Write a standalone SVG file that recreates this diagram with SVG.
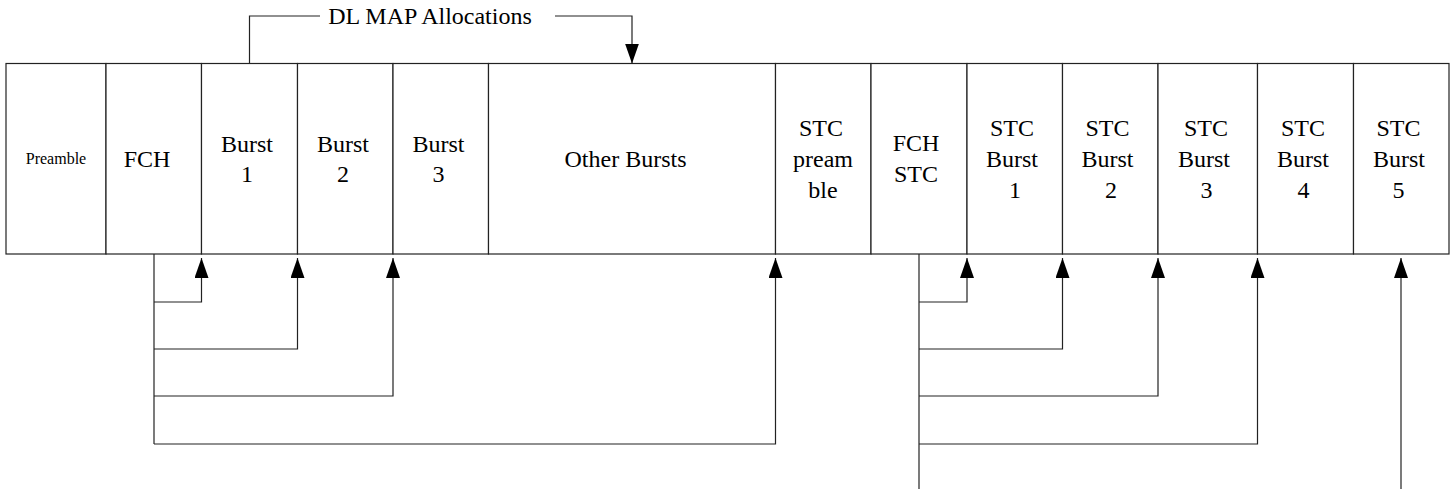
<svg xmlns="http://www.w3.org/2000/svg" width="1454" height="489" viewBox="0 0 1454 489">
<style>
.box{fill:#fff;stroke:#222;stroke-width:1.2}
text{font-family:'Liberation Serif','Times New Roman',Times,serif;fill:#000;text-anchor:middle}
.t{font-size:24px}
.s{font-size:16px}
.c{fill:none;stroke:#222;stroke-width:1.2}
</style>
<defs>
<marker id="ah" markerUnits="userSpaceOnUse" markerWidth="20" markerHeight="14" refX="20" refY="7" orient="auto">
<path d="M0,0 L20,7 L0,14 z" fill="#000"/>
</marker>
</defs>
<rect width="1454" height="489" fill="#fff"/>
<g font-family="Liberation Serif, Times New Roman, serif">
<g id="preamble"><rect class="box" x="6" y="63.5" width="100" height="190.5"/><text class="s" x="56" y="164">Preamble</text></g>
<g id="fch"><rect class="box" x="106" y="63.5" width="95.5" height="190.5"/><text class="t" x="147" y="167">FCH</text></g>
<g id="burst1"><rect class="box" x="201.5" y="63.5" width="96" height="190.5"/><text class="t" x="247" y="151.5">Burst</text><text class="t" x="247" y="181.5">1</text></g>
<g id="burst2"><rect class="box" x="297.5" y="63.5" width="95.5" height="190.5"/><text class="t" x="343" y="151.5">Burst</text><text class="t" x="343" y="181.5">2</text></g>
<g id="burst3"><rect class="box" x="393" y="63.5" width="95.5" height="190.5"/><text class="t" x="438.5" y="151.5">Burst</text><text class="t" x="438.5" y="181.5">3</text></g>
<g id="other"><rect class="box" x="488.5" y="63.5" width="287" height="190.5"/><text class="t" x="625.5" y="167">Other Bursts</text></g>
<g id="stcpreamble"><rect class="box" x="775.5" y="63.5" width="95.5" height="190.5"/><text class="t" x="821" y="135.5">STC</text><text class="t" x="823" y="166.5">pream</text><text class="t" x="823" y="197.5">ble</text></g>
<g id="fchstc"><rect class="box" x="871" y="63.5" width="96" height="190.5"/><text class="t" x="916" y="151">FCH</text><text class="t" x="916" y="182">STC</text></g>
<g id="stcburst1"><rect class="box" x="967" y="63.5" width="95.5" height="190.5"/><text class="t" x="1012" y="135.5">STC</text><text class="t" x="1012" y="166.5">Burst</text><text class="t" x="1015" y="197.5">1</text></g>
<g id="stcburst2"><rect class="box" x="1062.5" y="63.5" width="95.5" height="190.5"/><text class="t" x="1107.5" y="135.5">STC</text><text class="t" x="1107.5" y="166.5">Burst</text><text class="t" x="1111" y="197.5">2</text></g>
<g id="stcburst3"><rect class="box" x="1158" y="63.5" width="99.5" height="190.5"/><text class="t" x="1206" y="135.5">STC</text><text class="t" x="1204" y="166.5">Burst</text><text class="t" x="1206.5" y="197.5">3</text></g>
<g id="stcburst4"><rect class="box" x="1257.5" y="63.5" width="96" height="190.5"/><text class="t" x="1303" y="135.5">STC</text><text class="t" x="1303" y="166.5">Burst</text><text class="t" x="1303.5" y="197.5">4</text></g>
<g id="stcburst5"><rect class="box" x="1353.5" y="63.5" width="95.5" height="190.5"/><text class="t" x="1398.5" y="135.5">STC</text><text class="t" x="1399" y="166.5">Burst</text><text class="t" x="1398.5" y="197.5">5</text></g>
<g id="dlmap"><text class="t" x="430" y="24">DL MAP Allocations</text></g>
</g>
<g id="connectors">
<path class="c" d="M249.5,63.5 V16 H320"/>
<path class="c" d="M555,16 H632 V63.5" marker-end="url(#ah)"/>
<path class="c" d="M154,254 V444"/>
<path class="c" d="M154,302 H201.5 V258" marker-end="url(#ah)"/>
<path class="c" d="M154,349 H297.5 V258" marker-end="url(#ah)"/>
<path class="c" d="M154,396 H393 V258" marker-end="url(#ah)"/>
<path class="c" d="M154,444 H775.5 V258" marker-end="url(#ah)"/>
<path class="c" d="M919,254 V489"/>
<path class="c" d="M919,302 H967 V258" marker-end="url(#ah)"/>
<path class="c" d="M919,349 H1062.5 V258" marker-end="url(#ah)"/>
<path class="c" d="M919,396 H1158 V258" marker-end="url(#ah)"/>
<path class="c" d="M919,444 H1257.5 V258" marker-end="url(#ah)"/>
<path class="c" d="M1401,489 V258" marker-end="url(#ah)"/>
</g>
</svg>
